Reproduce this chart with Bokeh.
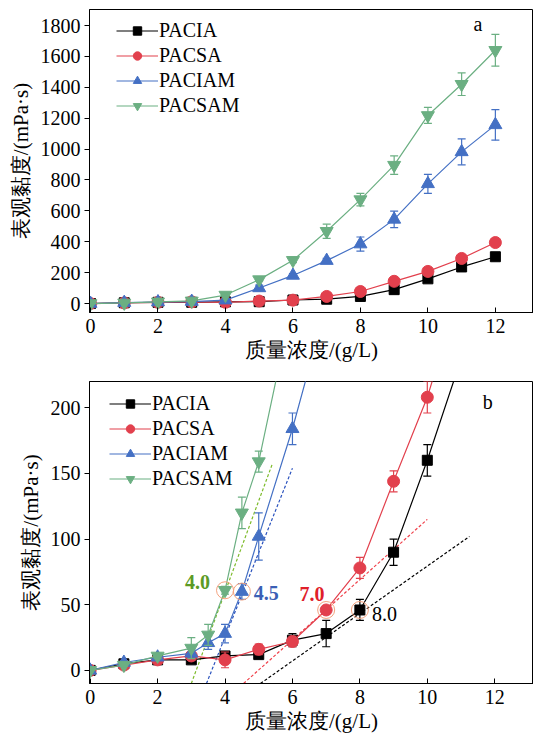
from bokeh.plotting import figure
from bokeh.layouts import column
from bokeh.models import ColumnDataSource, Range1d, FixedTicker, Legend, LegendItem
from bokeh.core.properties import value
from bokeh.embed import file_html
from bokeh.resources import INLINE

# ---------------- data ----------------
conc = [0, 1, 2, 3, 4, 5, 6, 7, 8, 9, 10, 11, 12]
pacia = [0, 5, 8, 8, 11, 12, 23, 28, 46, 90, 160, 237, 303]
pacia_err = [0, 1, 1, 2, 3, 2, 5, 10, 8, 10, 12, 12, 15]
pacsa = [0, 4, 8, 11, 8, 16, 22, 46, 78, 144, 208, 292, 395]
pacsa_err = [0, 1, 1, 2, 6, 4, 4, 3, 8, 8, 12, 15, 18]
paciam_a = [0, 6, 10, 13, 22, 101, 182, 278, 385, 545, 775, 982, 1157]
paciam_a_err = [0, 1, 2, 3, 7, 18, 12, 15, 46, 54, 61, 84, 99]
pacsam_a = [0, 4, 11, 17, 55, 155, 280, 468, 673, 896, 1218, 1420, 1640]
pacsam_a_err = [0, 1, 2, 8, 3, 8, 15, 46, 40, 60, 52, 73, 103]

conc_am_b = [0, 1, 2, 3, 3.5, 4, 4.5, 5, 6, 7]
paciam_b = [0, 6, 10, 13, 21, 28, 60, 102, 184, 278]
paciam_b_err = [0, 1, 2, 3, 5, 7, 6, 18, 12, 15]
pacsam_b = [0, 4, 11, 17, 27, 61, 120, 159, 280, 468]
pacsam_b_err = [0, 1, 2, 8, 8, 3, 12, 8, 15, 46]

names = ["PACIA", "PACSA", "PACIAM", "PACSAM"]

# tangent (dashed) lines in panel b: start/end points
tan_green_x = [3.0, 5.4]
tan_green_y = [-10, 157]
tan_blue_x = [3.45, 6.0]
tan_blue_y = [-10, 154]
tan_red_x = [4.55, 10.0]
tan_red_y = [-10, 115]
tan_black_x = [5.05, 11.25]
tan_black_y = [-10, 102]

# onset points (circled)
onset_x = [4.0, 4.5, 7.0, 8.0]
onset_y = [61, 60, 46, 46]
onset_labels = ["4.0", "4.5", "7.0", "8.0"]
onset_label_x = [3.18, 5.22, 6.58, 8.73]
onset_label_y = [67, 59, 58, 43]

x_ticks = [0, 2, 4, 6, 8, 10, 12]
y_ticks_a = [0, 200, 400, 600, 800, 1000, 1200, 1400, 1600, 1800]
y_ticks_b = [0, 50, 100, 150, 200]

# ---------------- style ----------------
FONT = "Liberation Serif"
colors = ["#000000", "#E2404D", "#4470C4", "#6BAF82"]
markers = ["square", "circle", "triangle", "inverted_triangle"]
msizes = [10, 12, 13, 13]
tan_colors = ["#7DBB2A", "#2A52BE", "#F0404A", "#000000"]
label_colors = ["#5B9A25", "#3A5FB5", "#E0202A", "#000000"]
label_styles = ["bold", "bold", "bold", "normal"]


def style(p, yticks):
    p.outline_line_color = "black"
    p.outline_line_width = 1
    p.outline_line_alpha = 1
    p.grid.visible = False
    p.background_fill_color = "white"
    p.border_fill_color = "white"
    for ax in (p.xaxis[0], p.yaxis[0]):
        ax.axis_line_color = "black"
        ax.major_tick_line_color = "black"
        ax.minor_tick_line_color = None
        ax.major_label_text_font = FONT
        ax.major_label_text_font_size = "20px"
        ax.major_label_text_color = "black"
        ax.axis_label_text_font = FONT
        ax.axis_label_text_font_size = "21px"
        ax.axis_label_text_font_style = "normal"
        ax.axis_label_text_color = "black"
    p.xaxis[0].ticker = FixedTicker(ticks=x_ticks)
    p.yaxis[0].ticker = FixedTicker(ticks=yticks)
    p.xaxis[0].major_tick_in = 5
    p.xaxis[0].major_tick_out = 0
    p.yaxis[0].major_tick_in = 0
    p.yaxis[0].major_tick_out = 5
    p.xaxis[0].major_label_standoff = 6
    p.xaxis[0].axis_label_standoff = 2
    p.yaxis[0].major_label_standoff = 4
    p.yaxis[0].axis_label_standoff = 5
    p.xaxis[0].axis_label = "质量浓度/(g/L)"
    p.yaxis[0].axis_label = "表观黏度/(mPa·s)"


def add_series(p, xs, ys, errs, i):
    src = ColumnDataSource(dict(
        x=xs, y=ys,
        lo=[a - b for a, b in zip(ys, errs)],
        hi=[a + b for a, b in zip(ys, errs)],
    ))
    c = colors[i]
    lr = p.line("x", "y", source=src, line_color=c, line_width=1.2)
    p.segment(x0="x", y0="lo", x1="x", y1="hi", source=src, line_color=c, line_width=1.2)
    p.scatter("x", "lo", source=src, marker="dash", size=8, line_color=c, line_width=1.2)
    p.scatter("x", "hi", source=src, marker="dash", size=8, line_color=c, line_width=1.2)
    mr = p.scatter("x", "y", source=src, marker=markers[i], size=msizes[i],
                   fill_color=c, line_color=c, line_width=1)
    return LegendItem(label=names[i], renderers=[lr, mr])


def add_legend(p, items, loc):
    leg = Legend(items=items, location=loc)
    leg.border_line_color = None
    leg.background_fill_alpha = 0
    leg.label_text_font = FONT
    leg.label_text_font_size = "20px"
    leg.label_text_color = "black"
    leg.glyph_width = 42
    leg.glyph_height = 21
    leg.label_height = 21
    leg.label_standoff = 1
    leg.spacing = 2
    leg.padding = 0
    leg.margin = 0
    p.add_layout(leg, "center")


# ---------------- panel a ----------------
pa = figure(width=533, height=378, output_backend="svg", toolbar_location=None,
            x_range=Range1d(-0.03, 13.13), y_range=Range1d(-58, 1904),
            min_border_left=89, min_border_right=0, min_border_top=9, min_border_bottom=66)
style(pa, y_ticks_a)
items_a = [
    add_series(pa, conc, pacia, pacia_err, 0),
    add_series(pa, conc, pacsa, pacsa_err, 1),
    add_series(pa, conc, paciam_a, paciam_a_err, 2),
    add_series(pa, conc, pacsam_a, pacsam_a_err, 3),
]
add_legend(pa, items_a, (27, 195))
pa.text(x=[11.48], y=[1813], text=["a"], text_font=value(FONT),
        text_font_size="20px", text_align="center", text_baseline="middle", text_color="black")

# ---------------- panel b ----------------
pb = figure(width=533, height=364, output_backend="svg", toolbar_location=None,
            x_range=Range1d(-0.02, 13.15), y_range=Range1d(-10, 220),
            min_border_left=88, min_border_right=0, min_border_top=3, min_border_bottom=59)
style(pb, y_ticks_b)

for tx, ty, tc in [(tan_green_x, tan_green_y, tan_colors[0]), (tan_blue_x, tan_blue_y, tan_colors[1]),
                   (tan_red_x, tan_red_y, tan_colors[2]), (tan_black_x, tan_black_y, tan_colors[3])]:
    pb.line(tx, ty, line_color=tc, line_width=1.2, line_dash="3 2")

items_b = [
    add_series(pb, conc, pacia, pacia_err, 0),
    add_series(pb, conc, pacsa, pacsa_err, 1),
    add_series(pb, conc_am_b, paciam_b, paciam_b_err, 2),
    add_series(pb, conc_am_b, pacsam_b, pacsam_b_err, 3),
]
add_legend(pb, items_b, (20, 193))

pb.scatter(onset_x, onset_y, marker="circle", size=17, fill_color=None,
           line_color="#F4A27E", line_width=1)
for lx, ly, lt, lc, ls in zip(onset_label_x, onset_label_y, onset_labels, label_colors, label_styles):
    pb.text(x=[lx], y=[ly], text=[lt], text_font=value(FONT), text_font_size="20px",
            text_font_style=ls, text_color=lc, text_align="center", text_baseline="middle")
pb.text(x=[11.79], y=[204.6], text=["b"], text_font=value(FONT),
        text_font_size="20px", text_align="center", text_baseline="middle", text_color="black")

layout = column(pa, pb, spacing=0)
open("out.html", "w").write(file_html(layout, INLINE))
